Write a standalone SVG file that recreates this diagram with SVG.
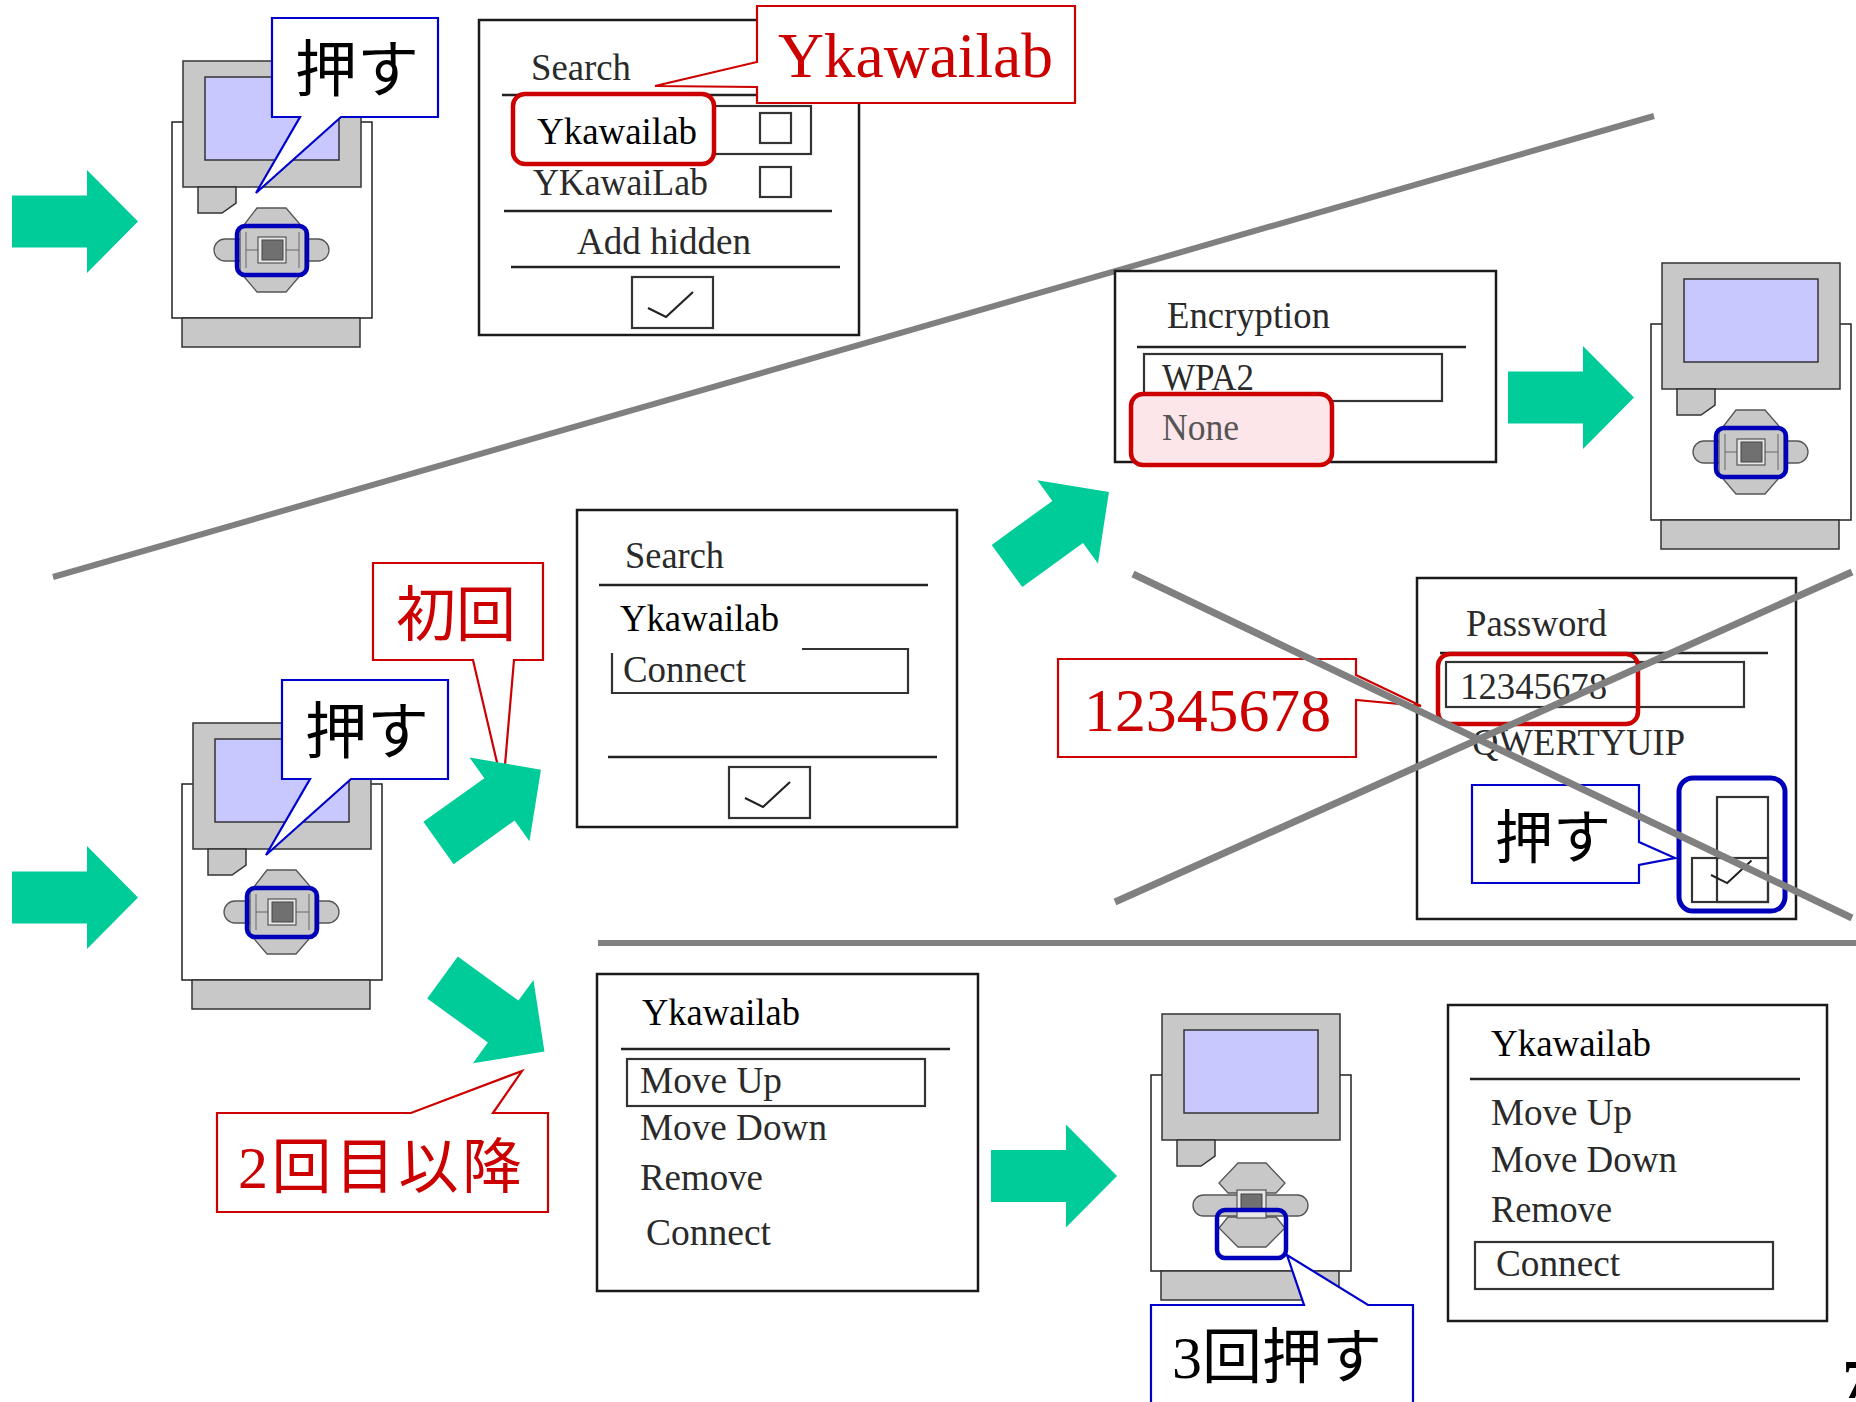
<svg xmlns="http://www.w3.org/2000/svg" xmlns:xlink="http://www.w3.org/1999/xlink" width="1856" height="1402" viewBox="0 0 1856 1402">
  <style>
    .dlg { fill: #fff; stroke: #1a1a1a; stroke-width: 2.5; }
    .rule { stroke: #222; stroke-width: 2.5; fill: none; }
    .box { fill: none; stroke: #333; stroke-width: 2.2; }
    .dt { font-family: "Liberation Serif", serif; font-size: 38px; fill: #2a2a2a; }
    .dk { fill: #000; }
    .red-hl { fill: #fff; stroke: #CC0000; stroke-width: 4.5; }
    .blue-hl { fill: none; stroke: #0000BB; stroke-width: 4.5; }
    .co-red { fill: #fff; stroke: #CC0000; stroke-width: 2.2; }
    .co-blue { fill: #fff; stroke: #0000CC; stroke-width: 2.2; }
    .jp { font-family: "Noto Sans CJK JP", sans-serif; font-size: 62px; fill: #000; }
    .jp-red { font-family: "Liberation Serif", "Noto Sans CJK JP", sans-serif; font-size: 60px; fill: #CC0000; }
    .jp-blk { font-family: "Liberation Serif", "Noto Sans CJK JP", sans-serif; font-size: 60px; fill: #000; }
    .grey { fill: #C8C8C8; stroke: #333; stroke-width: 1.5; }
    .pad { fill: #C8C8C8; stroke: #555; stroke-width: 1.3; }
    .strike { stroke: #808080; stroke-width: 7; fill: none; }
    .arrow { fill: #00CC99; }
  </style>
  <defs>
    <!-- block arrow, tail centre at origin, pointing along +x -->
    <polygon id="arr" class="arrow" points="0,-26 75,-26 75,-51.5 126,0 75,51.5 75,26 0,26"/>
    <!-- brick body without its button pad -->
    <g id="brick">
      <rect x="172" y="122" width="200" height="196" fill="#fff" stroke="#222" stroke-width="1.5"/>
      <rect class="grey" x="182" y="318" width="178" height="29"/>
      <rect class="grey" x="183" y="61" width="178" height="126"/>
      <rect x="205" y="77" width="134" height="83" fill="#C8C8FF" stroke="#333" stroke-width="1.5"/>
      <polygon class="grey" points="198,187 236,187 236,203 222,213 198,213"/>
    </g>
    <!-- button pad, centre button highlighted -->
    <g id="padCentre">
      <rect class="pad" x="214" y="239" width="115" height="22" rx="11"/>
      <polygon class="pad" points="257,208 286,208 305,230 305,270 286,292 257,292 240,272 240,230"/>
      <path d="M246,232 V268 M299,232 V268 M246,250 H258 M286,250 H299" stroke="#666" stroke-width="1" fill="none"/>
      <rect x="258" y="237" width="28" height="26" fill="#E8E8E8" stroke="#555" stroke-width="1.2"/>
      <rect x="262" y="240" width="21" height="20" fill="#707070" stroke="#444" stroke-width="1"/>
      <rect class="blue-hl" x="237" y="226" width="70" height="49" rx="8"/>
    </g>
    <!-- button pad, down button highlighted -->
    <g id="padDown">
      <rect class="pad" x="214" y="242" width="115" height="21" rx="10.5"/>
      <polygon class="pad" points="259,210 287,210 306,230 297,240 249,240 240,230"/>
      <polygon class="pad" points="249,264 297,264 306,275 287,294 259,294 240,275"/>
      <rect x="258" y="237" width="29" height="28" fill="#E8E8E8" stroke="#555" stroke-width="1.2"/>
      <rect x="262" y="241" width="21" height="17" fill="#707070" stroke="#444" stroke-width="1"/>
      <rect class="blue-hl" x="238" y="257" width="69" height="48" rx="8"/>
    </g>
    <polyline id="tick" points="0,0 18,9 45,-16" fill="none" stroke="#222" stroke-width="2.2"/>
  </defs>

  <rect width="1856" height="1402" fill="#fff"/>

  <!-- section dividers -->
  <g id="dividers">
    <line class="strike" x1="53" y1="577" x2="1654" y2="116" style="stroke-width:6"/>
    <line class="strike" x1="598" y1="943" x2="1856" y2="943" style="stroke-width:6"/>
  </g>

  <!-- bricks -->
  <g id="brick1">
    <use xlink:href="#brick"/>
    <use xlink:href="#padCentre"/>
  </g>
  <g id="brick2" transform="translate(1479,202)">
    <use xlink:href="#brick"/>
    <use xlink:href="#padCentre"/>
  </g>
  <g id="brick3" transform="translate(10,662)">
    <use xlink:href="#brick"/>
    <use xlink:href="#padCentre"/>
  </g>
  <g id="brick4" transform="translate(979,953)">
    <use xlink:href="#brick"/>
    <use xlink:href="#padDown"/>
  </g>

  <!-- push callouts on the bricks -->
  <g id="push1">
    <path class="co-blue" d="M272,18 H438 V117 H341 L256,193 L300,117 H272 Z"/>
    <text class="jp" x="295" y="92">押す</text>
  </g>
  <g id="push2" transform="translate(10,662)">
    <path class="co-blue" d="M272,18 H438 V117 H341 L256,193 L300,117 H272 Z"/>
    <text class="jp" x="295" y="92">押す</text>
  </g>

  <!-- network list dialog -->
  <g id="searchDialog1">
    <rect class="dlg" x="479" y="20" width="380" height="315"/>
    <text class="dt" x="531" y="80" textLength="100" lengthAdjust="spacingAndGlyphs">Search</text>
    <line class="rule" x1="502" y1="95" x2="832" y2="95"/>
    <rect class="box" x="513" y="106" width="298" height="48"/>
    <rect class="box" x="760" y="113" width="31" height="30"/>
    <rect class="red-hl" x="513" y="94" width="201" height="70" rx="12"/>
    <text class="dt dk" x="537" y="144" textLength="160" lengthAdjust="spacingAndGlyphs">Ykawailab</text>
    <text class="dt" x="533" y="195" textLength="175" lengthAdjust="spacingAndGlyphs">YKawaiLab</text>
    <rect class="box" x="760" y="167" width="31" height="30"/>
    <line class="rule" x1="504" y1="211" x2="832" y2="211"/>
    <text class="dt" x="577" y="254" textLength="174" lengthAdjust="spacingAndGlyphs">Add hidden</text>
    <line class="rule" x1="511" y1="267" x2="840" y2="267"/>
    <rect class="box" x="632" y="277" width="81" height="51"/>
    <use xlink:href="#tick" x="648" y="308"/>
  </g>

  <g id="ssidCallout">
    <path class="co-red" d="M757,6 H1075 V103 H757 V87 L655,86 L757,62 Z"/>
    <text x="778" y="77" font-family="Liberation Serif, serif" font-size="63" fill="#CC0000" textLength="275" lengthAdjust="spacingAndGlyphs">Ykawailab</text>
  </g>

  <!-- encryption dialog -->
  <g id="encryptionDialog">
    <rect class="dlg" x="1115" y="271" width="381" height="191"/>
    <text class="dt" x="1167" y="328" textLength="163" lengthAdjust="spacingAndGlyphs">Encryption</text>
    <line class="rule" x1="1137" y1="347" x2="1466" y2="347"/>
    <rect class="box" x="1144" y="354" width="298" height="47"/>
    <text class="dt" x="1162" y="390" textLength="92" lengthAdjust="spacingAndGlyphs">WPA2</text>
    <rect class="red-hl" x="1131" y="394" width="201" height="71" rx="12" style="fill:#FCE6EA"/>
    <text class="dt" x="1162" y="440" textLength="77" lengthAdjust="spacingAndGlyphs" style="fill:#555">None</text>
  </g>

  <!-- first connection dialog -->
  <g id="searchDialog2">
    <rect class="dlg" x="577" y="510" width="380" height="317"/>
    <text class="dt" x="625" y="568" textLength="99" lengthAdjust="spacingAndGlyphs">Search</text>
    <line class="rule" x1="599" y1="585" x2="928" y2="585"/>
    <text class="dt dk" x="620" y="631" textLength="159" lengthAdjust="spacingAndGlyphs">Ykawailab</text>
    <path class="box" d="M802,649 H908 V693 H612 V653"/>
    <text class="dt" x="623" y="682" textLength="123" lengthAdjust="spacingAndGlyphs">Connect</text>
    <line class="rule" x1="608" y1="757" x2="937" y2="757"/>
    <rect class="box" x="729" y="767" width="81" height="51"/>
    <use xlink:href="#tick" x="745" y="798"/>
  </g>

  <g id="firstTimeCallout">
    <path class="co-red" d="M373,563 H543 V660 H514 L503,788 L473,660 H373 Z"/>
    <text class="jp-red" x="396" y="636">初回</text>
  </g>

  <!-- password dialog (struck through) -->
  <g id="passwordDialog">
    <rect class="dlg" x="1417" y="578" width="379" height="341"/>
    <text class="dt" x="1466" y="636" textLength="141" lengthAdjust="spacingAndGlyphs">Password</text>
    <line class="rule" x1="1440" y1="653" x2="1768" y2="653"/>
    <rect class="box" x="1446" y="662" width="298" height="45"/>
    <text class="dt" x="1460" y="699" textLength="147" lengthAdjust="spacingAndGlyphs">12345678</text>
    <rect class="red-hl" x="1438" y="654" width="200" height="70" rx="12" style="fill:none"/>
    <text class="dt" x="1472" y="755" textLength="213" lengthAdjust="spacingAndGlyphs">QWERTYUIP</text>
    <rect class="box" x="1717" y="797" width="51" height="105"/>
    <rect class="box" x="1692" y="858" width="76" height="44"/>
    <use xlink:href="#tick" x="1711" y="875" transform="translate(1711,875) scale(0.9) translate(-1711,-875)"/>
    <rect class="blue-hl" x="1679" y="778" width="106" height="133" rx="14" style="stroke-width:5"/>
  </g>

  <g id="passwordCallout">
    <path class="co-red" d="M1058,659 H1356 V675 L1421,706 L1356,700 V757 H1058 Z"/>
    <text x="1084" y="731" font-family="Liberation Serif, serif" font-size="62" fill="#CC0000" textLength="247" lengthAdjust="spacingAndGlyphs">12345678</text>
  </g>

  <g id="push3">
    <path class="co-blue" d="M1472,785 H1639 V842 L1675,858 L1639,865 V883 H1472 Z"/>
    <text class="jp" x="1495" y="858" style="font-size:58px">押す</text>
  </g>

  <!-- saved network menu -->
  <g id="menuDialog1">
    <rect class="dlg" x="597" y="974" width="381" height="317"/>
    <text class="dt dk" x="642" y="1025" textLength="158" lengthAdjust="spacingAndGlyphs">Ykawailab</text>
    <line class="rule" x1="621" y1="1049" x2="950" y2="1049"/>
    <rect class="box" x="627" y="1059" width="298" height="47"/>
    <text class="dt" x="640" y="1093" textLength="142" lengthAdjust="spacingAndGlyphs">Move Up</text>
    <text class="dt" x="640" y="1140" textLength="187" lengthAdjust="spacingAndGlyphs">Move Down</text>
    <text class="dt" x="640" y="1190" textLength="123" lengthAdjust="spacingAndGlyphs">Remove</text>
    <text class="dt" x="646" y="1245" textLength="125" lengthAdjust="spacingAndGlyphs">Connect</text>
  </g>

  <g id="menuDialog2">
    <rect class="dlg" x="1448" y="1005" width="379" height="316"/>
    <text class="dt dk" x="1491" y="1056" textLength="160" lengthAdjust="spacingAndGlyphs">Ykawailab</text>
    <line class="rule" x1="1470" y1="1079" x2="1800" y2="1079"/>
    <text class="dt" x="1491" y="1125" textLength="141" lengthAdjust="spacingAndGlyphs">Move Up</text>
    <text class="dt" x="1491" y="1172" textLength="186" lengthAdjust="spacingAndGlyphs">Move Down</text>
    <text class="dt" x="1491" y="1222" textLength="121" lengthAdjust="spacingAndGlyphs">Remove</text>
    <rect class="box" x="1475" y="1242" width="298" height="47"/>
    <text class="dt" x="1496" y="1276" textLength="124" lengthAdjust="spacingAndGlyphs">Connect</text>
  </g>

  <g id="laterCallout">
    <path class="co-red" d="M217,1113 H411 L522,1071 L493,1113 H548 V1212 H217 Z"/>
    <text class="jp-red" x="238" y="1188" textLength="284" lengthAdjust="spacing">2回目以降</text>
  </g>

  <g id="push4">
    <path class="co-blue" d="M1151,1305 H1304 L1287,1255 L1368,1305 H1413 V1412 H1151 Z"/>
    <text class="jp-blk" x="1172" y="1378">3回押す</text>
  </g>

  <!-- flow arrows -->
  <g id="connectors">
    <use xlink:href="#arr" transform="translate(12,221.5)"/>
    <use xlink:href="#arr" transform="translate(12,897.5)"/>
    <use xlink:href="#arr" transform="translate(1508,397.5)"/>
    <use xlink:href="#arr" transform="translate(438.5,843) rotate(-35.6)"/>
    <use xlink:href="#arr" transform="translate(1007,566) rotate(-36)"/>
    <use xlink:href="#arr" transform="translate(442.5,977.5) rotate(36)"/>
    <use xlink:href="#arr" transform="translate(991,1176)"/>
  </g>

  <!-- cross over the password step -->
  <g id="crossOut">
    <line class="strike" x1="1133" y1="574" x2="1852" y2="918"/>
    <line class="strike" x1="1115" y1="902" x2="1852" y2="572"/>
  </g>

  <text x="1843" y="1398" font-family="Liberation Serif, serif" font-size="54" font-weight="bold" fill="#000">7</text>
</svg>
